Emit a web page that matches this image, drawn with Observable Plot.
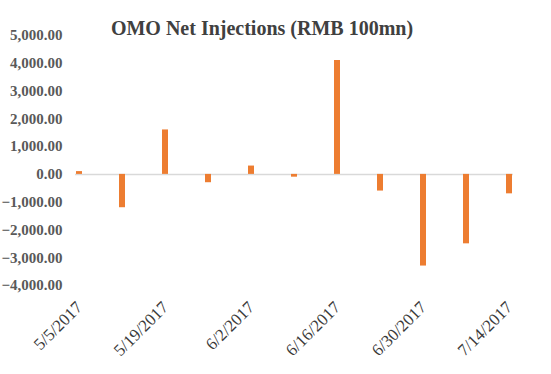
<!DOCTYPE html>
<html>
<head>
<meta charset="utf-8">
<script src="https://cdn.jsdelivr.net/npm/d3@7"></script>
<script src="https://cdn.jsdelivr.net/npm/@observablehq/plot@0.6"></script>
<style>
  html, body { margin: 0; padding: 0; background: #fff; }
  #wrap { position: relative; width: 551px; height: 374px; }
  #title { position: absolute; left: 0; top: 17px; width: 524px; text-align: center;
    font-family: "Liberation Serif", serif; font-weight: bold; font-size: 20px; color: #404040; }
</style>
</head>
<body>
<div id="wrap">
  <div id="title">OMO Net Injections (RMB 100mn)</div>
</div>
<script>
const dates = ["5/5/2017","5/12/2017","5/19/2017","5/26/2017","6/2/2017","6/9/2017",
               "6/16/2017","6/23/2017","6/30/2017","7/7/2017","7/14/2017"];
const netInjection = [100, -1200, 1600, -300, 300, -100, 4100, -600, -3300, -2500, -700];
const tickLabels = ["5/5/2017","5/19/2017","6/2/2017","6/16/2017","6/30/2017","7/14/2017"];
const yTicks = [-4000,-3000,-2000,-1000,0,1000,2000,3000,4000,5000];

const data = dates.map((d, i) => ({date: d, value: netInjection[i]}));

const chart = Plot.plot({
  width: 551,
  height: 374,
  marginLeft: 75,
  marginRight: 38,
  marginTop: 35,
  marginBottom: 89,
  style: {fontFamily: "Liberation Serif, serif", fontSize: "15px", fontWeight: "bold", color: "#595959", background: "transparent"},
  x: {domain: dates, paddingInner: 0.86, paddingOuter: 0, label: null},
  y: {domain: [-4000, 5000], label: null},
  marks: [
    Plot.ruleY([0], {stroke: "#d9d9d9", strokeWidth: 1.5}),
    Plot.barY(data, {x: "date", y: "value", fill: "#ED7D31"}),
    Plot.axisY({ticks: yTicks, tickFormat: d3.format(",.2f"), tickSize: 0, tickPadding: 13, label: null, fontSize: 15}),
    Plot.axisX({ticks: tickLabels, tickSize: 0, tickRotate: -45, tickPadding: 19, label: null, fontSize: 17, fontWeight: "normal", fill: "#3a3a3a"})
  ]
});
document.getElementById("wrap").prepend(chart);
</script>
</body>
</html>
